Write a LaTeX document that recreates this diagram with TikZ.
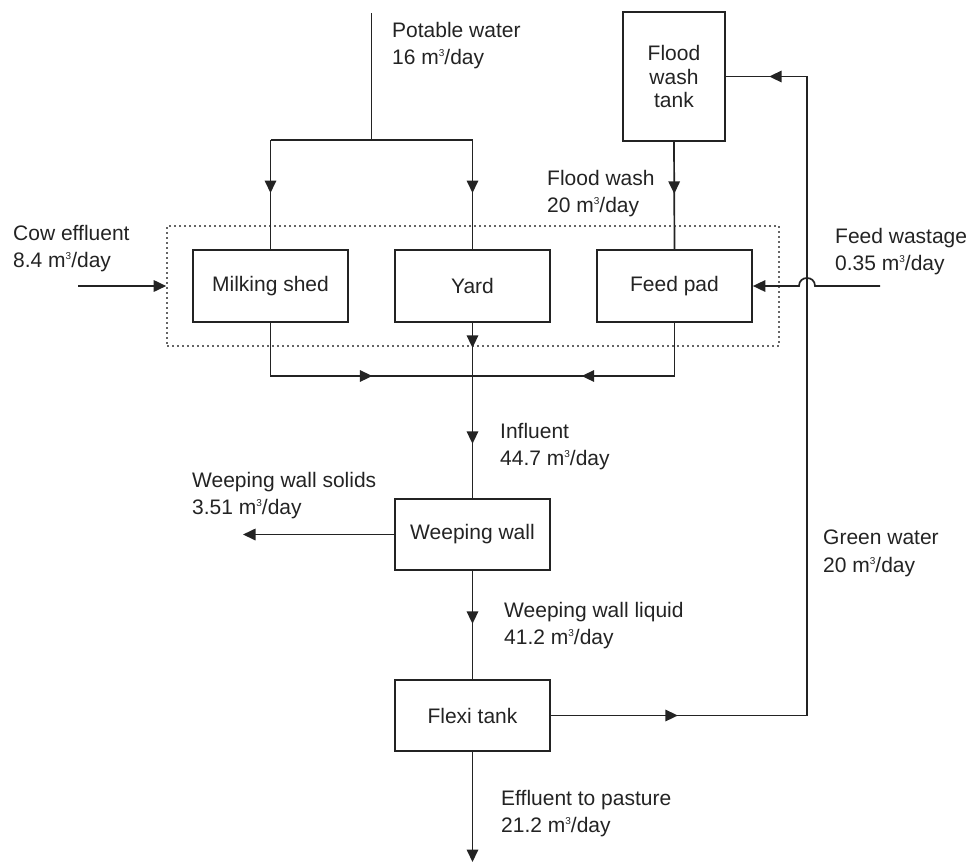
\documentclass[tikz,border=0pt]{standalone}
\usepackage{fontspec}
\setmainfont{Liberation Sans}
\usetikzlibrary{arrows.meta,decorations.markings}
\definecolor{ink}{RGB}{35,35,35}
\newcommand\mcube{m\raisebox{8pt}{\fontsize{10}{10}\selectfont 3}}
\begin{document}
\begin{tikzpicture}[x=1pt,y=-1pt,
  >={Triangle[length=12.5pt,width=11.5pt]},
  box/.style={draw=ink, line width=1.7pt, minimum width=155pt, minimum height=72pt,
    inner sep=0pt, font=\fontsize{21}{23.5}\selectfont, text=ink, align=center},
  lbl/.style={anchor=north west, inner sep=0pt, align=left,
    font=\fontsize{21}{27.5}\selectfont, text=ink},
  flow/.style={draw=ink, line width=1.7pt},
  mid/.style={postaction={decorate,decoration={markings,mark=at position #1 with {\arrow{>}}}}},
  grpbox/.style={draw=ink!70, line width=1.6pt, dash pattern=on 1.6pt off 3.4pt,
    minimum width=612pt, minimum height=120pt, inner sep=0pt}]
\useasboundingbox (0,0) rectangle (972,863);

% group
\node[grpbox] (grp) at (473,286) {};

% boxes
\node[box] (milk) at (270.5,286) {Milking shed};
\node[box] (yard) at (472.5,286) {Yard};
\node[box] (feed) at (674.5,286) {Feed pad};
\node[box, minimum width=102pt, minimum height=129pt] (tank) at (674,76.5) {Flood\\wash\\tank};
\node[box, minimum height=71pt] (ww) at (472.5,534.5) {Weeping wall};
\node[box, minimum height=71pt] (flexi) at (472.5,715.5) {Flexi tank};

% coordinates
\coordinate (pw) at (371.5,13);
\coordinate (pj) at (371.5,140);
\coordinate (pl) at (270.5,140);
\coordinate (pr) at (472.5,140);
\coordinate (ce) at (78,286);
\coordinate (fws) at (880,286);
\coordinate (hopR) at (815,286);
\coordinate (hopL) at (799,286);
\coordinate (jn) at (472.5,376);
\coordinate (wws) at (243,534.5);
\coordinate (ep) at (472.5,862);
\coordinate (gr) at (807,76.5);

% connectors
\draw[flow] (pw) -- (pj);
\draw[flow] (pl) -- (pr);
\draw[flow,mid=53pt] (pl) -- (milk.north);
\draw[flow,mid=53pt] (pr) -- (yard.north);
\draw[flow,mid=52pt] (tank.south) -- (feed.north);
\draw[flow,->] (ce) -- (grp.west);
\draw[flow,->] (fws) -- (hopR) .. controls +(0,-10.7) and +(0,-10.7) .. (hopL) -- (feed.east);
\draw[flow,mid=155pt] (milk.south) |- (jn);
\draw[flow,mid=146pt] (feed.south) |- (jn);
\draw[flow,mid=25pt,mid=121pt] (yard.south) -- (ww.north);
\draw[flow,->] (ww.west) -- (wws);
\draw[flow,mid=53pt] (ww.south) -- (flexi.north);
\draw[flow,->] (flexi.south) -- (ep);
\draw[flow,mid=127pt,mid=933pt] (flexi.east) -| (gr) -- (tank.east);

% labels
\node[lbl] (lpw) at (392,22) {Potable water\\16 \mcube/day};
\node[lbl] (lfw) at (547,170) {Flood wash\\20 \mcube/day};
\node[lbl] (lce) at (13,225) {Cow effluent\\8.4 \mcube/day};
\node[lbl] (lfd) at (835,228) {Feed wastage\\0.35 \mcube/day};
\node[lbl] (lin) at (500,423) {Influent\\44.7 \mcube/day};
\node[lbl] (lws) at (192,472) {Weeping wall solids\\3.51 \mcube/day};
\node[lbl] (lgw) at (823,530) {Green water\\20 \mcube/day};
\node[lbl] (lwl) at (504,602) {Weeping wall liquid\\41.2 \mcube/day};
\node[lbl] (lep) at (501,790) {Effluent to pasture\\21.2 \mcube/day};
\end{tikzpicture}
\end{document}
